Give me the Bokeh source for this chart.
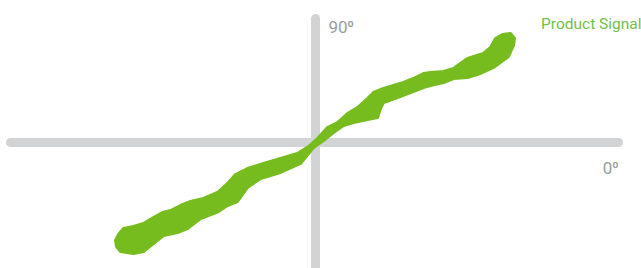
from bokeh.plotting import figure
from bokeh.models import Range1d
from bokeh.core.properties import value
from bokeh.embed import file_html
from bokeh.resources import INLINE

# Signal band outline (upper edge left->right, lower edge right->left)
upper_x = [-200, -197, -192, -182, -172, -162, -153, -145, -135, -125, -112, -98, -87, -80,
           -68, -52, -35, -18, -7, 2, 12, 22, 32, 42, 52, 58, 68, 78, 88, 98, 108, 115,
           128, 138, 152, 168, 175, 180, 187, 195, 199, 198]
upper_y = [-98, -92, -86, -84, -81, -75, -70, -68, -63, -59, -56, -50, -40, -32,
           -26, -21, -16, -11, -4, 4, 15, 20, 29, 35, 44, 50, 54, 57, 60, 64, 69, 70,
           71, 74, 84, 89, 95, 104, 108, 109, 104, 97]
lower_x = [193, 178, 165, 152, 138, 128, 115, 108, 95, 82, 68, 65, 62, 52, 38, 28, 18, 8,
           -2, -15, -35, -55, -68, -78, -88, -97, -102, -115, -128, -138, -152, -162,
           -172, -182, -195, -199]
lower_y = [86, 75, 69, 65, 64, 60, 57, 55, 50, 45, 40, 34, 25, 23, 20, 17, 10, 2,
           -5, -21, -30, -36, -45, -59, -63, -69, -71, -76, -86, -90, -93, -101,
           -109, -111, -109, -104]

# Cross axes extents
h_axis_x = [-305, 303]
h_axis_y = [0, 0]
v_axis_x = [0, 0]
v_axis_y = [-140, 124]

# Labels
label_top = "90⁰"
label_right = "0⁰"
series_name = "Product Signal"

p = figure(width=641, height=268, output_backend="svg", toolbar_location=None,
           x_range=Range1d(-315, 326), y_range=Range1d(-126, 142),
           min_border=0, outline_line_color=None, background_fill_color="white",
           border_fill_color="white")
p.xaxis.visible = False
p.yaxis.visible = False
p.grid.visible = False

axis_color = "#d2d3d5"
p.line(h_axis_x, h_axis_y, line_width=9, line_color=axis_color, line_cap="round")
p.line(v_axis_x, v_axis_y, line_width=9, line_color=axis_color, line_cap="round")

green = "#77bc1f"
p.patch(upper_x + lower_x, upper_y + lower_y, fill_color=green, line_color=green,
        line_width=3, line_join="round")

p.text(x=[13], y=[116], text=[label_top], text_font=value("Roboto"),
       text_font_size="17px", text_color="#9b9b9b", text_baseline="alphabetic",
       text_align="left")
p.text(x=[303], y=[-25], text=[label_right], text_font=value("Roboto"),
       text_font_size="17px", text_color="#9b9b9b", text_baseline="alphabetic",
       text_align="right")
p.text(x=[326], y=[119], text=[series_name], text_font=value("Roboto"),
       text_font_size="15.5px", text_color="#72c04a", text_baseline="alphabetic",
       text_align="right")

open("out.html", "w").write(file_html(p, INLINE))
